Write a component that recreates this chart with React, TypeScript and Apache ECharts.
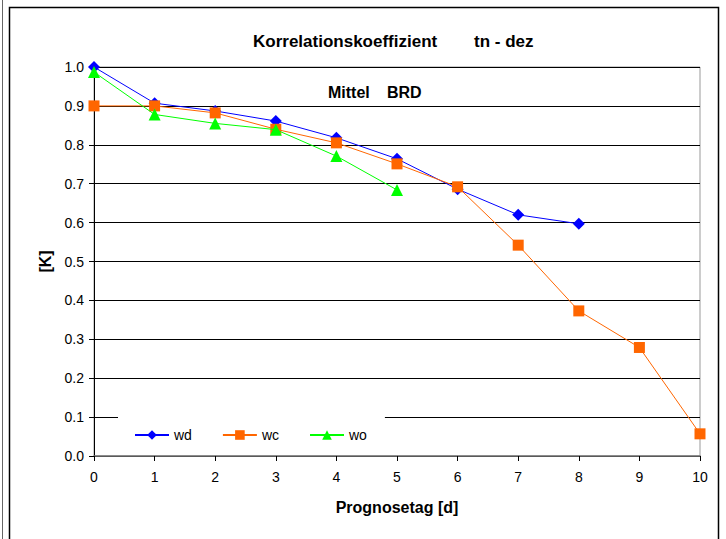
import React, { useEffect, useRef } from "react";
import * as echarts from "echarts";

const days = [0, 1, 2, 3, 4, 5, 6, 7, 8, 9, 10];
const wdValues = [1.0, 0.907, 0.887, 0.861, 0.818, 0.764, 0.686, 0.62, 0.597];
const wcValues = [0.9, 0.9, 0.882, 0.84, 0.805, 0.751, 0.692, 0.542, 0.373, 0.279, 0.057];
const woValues = [0.987, 0.878, 0.855, 0.839, 0.771, 0.684];
const yTicks = [0, 0.1, 0.2, 0.3, 0.4, 0.5, 0.6, 0.7, 0.8, 0.9, 1.0];

const FONT = "'Liberation Sans', Arial, sans-serif";
const BOLD16 = `bold 16px ${FONT}`;
const BOLD17 = `bold 17px ${FONT}`;

export default function App() {
  const ref = useRef<HTMLDivElement>(null);
  useEffect(() => {
    const chart = echarts.init(ref.current!, null, { renderer: "svg" });
    const toPairs = (vals: number[]) => vals.map((v, i) => [days[i], v]);
    chart.setOption({
      animation: false,
      backgroundColor: "#ffffff",
      textStyle: { fontFamily: FONT },
      graphic: [
        { type: "rect", shape: { x: 9.5, y: 7.5, width: 709, height: 540 }, style: { fill: "none", stroke: "#000", lineWidth: 1.5 }, silent: true },
        { type: "line", shape: { x1: 2.5, y1: 0, x2: 2.5, y2: 539 }, style: { stroke: "#666", lineWidth: 1 }, silent: true },
        { type: "text", x: 253, y: 41, style: { text: "Korrelationskoeffizient", font: BOLD17, fill: "#000", textVerticalAlign: "middle", textAlign: "left" }, silent: true },
        { type: "text", x: 474, y: 41, style: { text: "tn - dez", font: BOLD17, fill: "#000", textVerticalAlign: "middle", textAlign: "left" }, silent: true },
        { type: "text", x: 328, y: 92, style: { text: "Mittel", font: BOLD16, fill: "#000", textVerticalAlign: "middle", textAlign: "left" }, silent: true },
        { type: "text", x: 387, y: 92, style: { text: "BRD", font: BOLD16, fill: "#000", textVerticalAlign: "middle", textAlign: "left" }, silent: true },
      ],
      grid: { left: 94, right: 26, top: 67, bottom: 83, show: true, borderColor: "#999", borderWidth: 1, backgroundColor: "transparent" },
      legend: {
        left: 118,
        top: 417,
        backgroundColor: "#ffffff",
        padding: [11, 18, 12, 16],
        itemWidth: 34,
        itemHeight: 12,
        itemGap: 30,
        textStyle: { fontFamily: FONT, fontSize: 14, color: "#000" },
        data: ["wd", "wc", "wo"],
      },
      xAxis: {
        type: "value",
        min: 0,
        max: 10,
        interval: 1,
        name: "Prognosetag [d]",
        nameLocation: "middle",
        nameGap: 43,
        nameTextStyle: { fontFamily: FONT, fontSize: 16, fontWeight: "bold", color: "#000" },
        axisLine: { show: true, lineStyle: { color: "#777", width: 1.5 } },
        axisTick: { show: true, length: 5, lineStyle: { color: "#000" } },
        axisLabel: { fontFamily: FONT, fontSize: 14, color: "#000", margin: 14 },
        splitLine: { show: false },
      },
      yAxis: {
        type: "value",
        min: 0,
        max: 1,
        interval: 0.1,
        name: "[K]",
        nameLocation: "middle",
        nameGap: 41,
        nameRotate: 90,
        nameTextStyle: { fontFamily: FONT, fontSize: 16, fontWeight: "bold", color: "#000" },
        axisLine: { show: true, lineStyle: { color: "#000", width: 1 } },
        axisTick: { show: true, length: 5, lineStyle: { color: "#000" } },
        axisLabel: {
          fontFamily: FONT,
          fontSize: 14,
          color: "#000",
          margin: 10,
          formatter: (v: number) => {
            const t = yTicks.find((y) => Math.abs(y - v) < 1e-6);
            return (t !== undefined ? t : v).toFixed(1);
          },
        },
        splitLine: { show: true, lineStyle: { color: "#000", width: 1 } },
      },
      series: [
        {
          name: "wd",
          type: "line",
          data: toPairs(wdValues),
          symbol: "diamond",
          symbolSize: 12,
          itemStyle: { color: "#0000ff" },
          lineStyle: { color: "#0000ff", width: 1 },
          z: 3,
        },
        {
          name: "wc",
          type: "line",
          data: toPairs(wcValues),
          symbol: "rect",
          symbolSize: 11,
          itemStyle: { color: "#ff6600" },
          lineStyle: { color: "#ff6600", width: 1 },
          z: 4,
        },
        {
          name: "wo",
          type: "line",
          data: toPairs(woValues),
          symbol: "triangle",
          symbolSize: 12,
          itemStyle: { color: "#00ff00" },
          lineStyle: { color: "#00ff00", width: 1 },
          z: 5,
        },
      ],
    });
    return () => chart.dispose();
  }, []);
  return (
    <div
      ref={ref}
      style={{ position: "fixed", left: 0, top: 0, width: 726, height: 539, background: "#fff" }}
    />
  );
}
